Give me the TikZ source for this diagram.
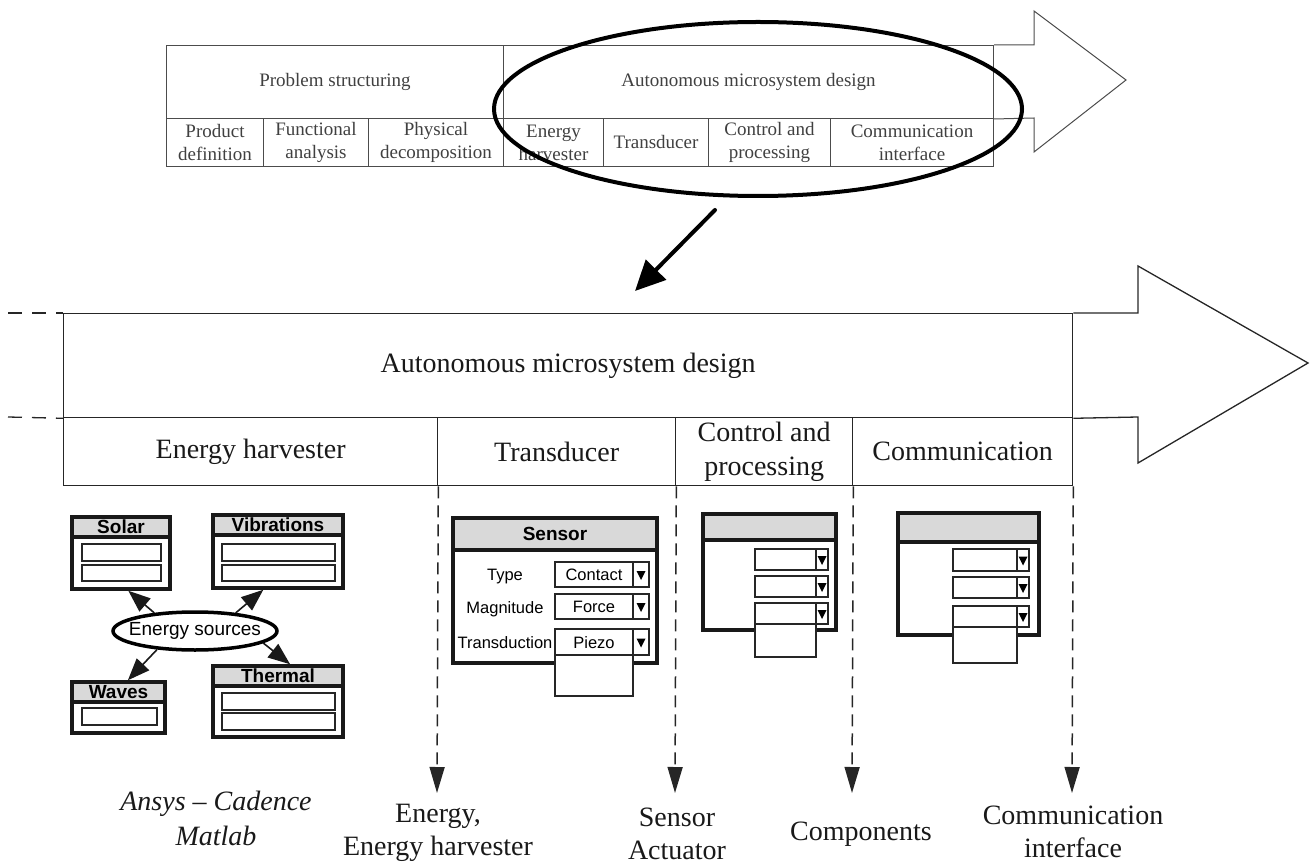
\documentclass[tikz,border=0pt]{standalone}
\usepackage{fontspec}
\setmainfont{Liberation Serif}
\newfontfamily\uisans{Liberation Sans}
\usetikzlibrary{arrows.meta,shapes.geometric,calc,fit}

\tikzset{
  tline/.style={draw=black!70, line width=1pt},
  bline/.style={draw=black!85, line width=1.3pt},
  cell/.style 2 args={anchor=north west, inner sep=0pt, align=center,
    minimum width=#1, minimum height=#2},
  smalltext/.style={font=\fontsize{19}{23}\selectfont, text=black!75},
  bigtext/.style={font=\fontsize{28}{34}\selectfont, text=black!90},
  labeltext/.style={font=\fontsize{28}{33}\selectfont, text=black!90, align=center},
  dashline/.style={bline, dash pattern=on 14pt off 10pt},
  dasharrow/.style={bline, line width=1.5pt, dash pattern=on 12pt off 7pt,
    -{Triangle[length=26pt,width=15pt]}},
  zoomarrow/.style={draw=black, line width=4pt, line cap=round,
    -{Triangle[length=30pt,width=28pt]}},
  winframe/.style={draw=black!90, line width=3.5pt},
  hdrfill/.style={fill=black!15},
  hdrtext/.style={font=\uisans\bfseries\fontsize{19}{21}\selectfont, inner sep=0pt},
  uitext/.style={font=\uisans\fontsize{16.5}{18}\selectfont, inner sep=0pt,
    text height=12pt, text depth=0pt},
  field/.style={draw=black!85, line width=1.2pt, fill=white},
  srcarrow/.style={draw=black!90, line width=1.6pt,
    -{Triangle[length=22pt,width=17pt]}},
}

% application window: name, x1, y1, x2, y2, header bottom, title
\newcommand{\appwin}[7]{%
  \fill[hdrfill] (#2,#3) rectangle (#4,#6);
  \node[fit={(#2,#3) (#4,#5)}, inner sep=0pt, winframe] (#1) {};
  \draw[winframe] (#2,#6) -- (#4,#6);
  \node[hdrtext] (#1-t) at ($(#2,#3)!0.5!(#4,#6)$) {#7};
}
% combo box: x1, y1, x2 (text part), x3 (button end), y2, value
\newcommand{\combo}[6]{%
  \draw[field] (#1,#2) rectangle (#3,#5);
  \draw[field] (#3,#2) rectangle (#4,#5);
  \fill[black] ($(#3,#2)!0.5!(#4,#5)+(-4.5,-3.5)$) -- ++(9,0) -- ++(-4.5,9) -- cycle;
  \node[uitext] at ($(#1,#2)!0.5!(#3,#5)$) {#6};
}

\begin{document}
\begin{tikzpicture}[x=1pt,y=-1pt, line join=miter]
\useasboundingbox (0,0) rectangle (1311,866);

% ---------- overview process arrow ----------
\node[cell={337pt}{73pt}, tline, smalltext] (ps)  at (166,45)  {Problem structuring};
\node[cell={490pt}{73pt}, tline, smalltext] (amd) at (503,45)  {Autonomous microsystem design};
\node[cell={97pt}{48pt},  tline, smalltext] (pd)  at (166,118) {Product\\definition};
\node[cell={105pt}{48pt}, tline, smalltext] (fa)  at (263,118) {Functional\\analysis};
\node[cell={135pt}{48pt}, tline, smalltext] (phd) at (368,118) {Physical\\decomposition};
\node[cell={100pt}{48pt}, tline, smalltext] (eh1) at (503,118) {Energy\\harvester};
\node[cell={105pt}{48pt}, tline, smalltext] (tr1) at (603,118) {Transducer};
\node[cell={122pt}{48pt}, tline, smalltext] (cp1) at (708,118) {Control and\\processing};
\node[cell={163pt}{48pt}, tline, smalltext] (ci1) at (830,118) {Communication\\interface};
\draw[tline] (amd.north east) -- (1034,45) -- (1034,11) -- (1126,80)
  -- (1034,152) -- (1034,118) -- (amd.south east);

% highlighted phase
\node[ellipse, draw=black, line width=4pt, inner sep=0pt,
  minimum width=528pt, minimum height=174pt] (focus) at (758,109) {};
\coordinate (zfrom) at (715,210);
\coordinate (zto) at (635,291);
\draw[zoomarrow] (zfrom) -- (zto);

% ---------- detailed design arrow ----------
\node[cell={1009pt}{104pt}, bline, bigtext] (amd2) at (63,313) {Autonomous microsystem design};
\node[cell={374pt}{68pt}, bline, bigtext] (eh2) at (63,417)  {Energy harvester};
\node[cell={238pt}{68pt}, bline, bigtext] (tr2) at (437,417) {Transducer};
\node[cell={177pt}{68pt}, bline, bigtext] (cp2) at (675,417) {Control and\\processing};
\node[cell={220pt}{68pt}, bline, bigtext] (co2) at (852,417) {Communication};
\draw[bline] (amd2.north east) -- (1138,313) -- (1138,266) -- (1308,363)
  -- (1138,463) -- (1138,417) -- (amd2.south east);
\coordinate (lt) at (8,313);
\coordinate (lm) at (8,417);
\draw[dashline] (lt) -- (amd2.north west);
\draw[dashline] (lm) -- (amd2.south west);

% outputs of each step
\coordinate (o1) at (437,793);
\coordinate (o2) at (675,793);
\coordinate (o3) at (852,793);
\coordinate (o4) at (1072,793);
\draw[dasharrow] (eh2.south east) -- (o1);
\draw[dasharrow] (tr2.south east) -- (o2);
\draw[dasharrow] (cp2.south east) -- (o3);
\draw[dasharrow] (co2.south east) -- (o4);

\node[labeltext, font=\itshape\fontsize{28}{35}\selectfont] (tools) at (216,818) {Ansys -- Cadence\\Matlab};
\node[labeltext] (lb1) at (438,833) {Energy,\\Energy harvester};
\node[labeltext] (lb2) at (677,834) {Sensor\\Actuator};
\node[labeltext] (lb3) at (861,834) {Components};
\node[labeltext] (lb4) at (1073,832) {Communication\\interface};

% ---------- energy sources ----------
\appwin{solar}{72}{517}{170}{589}{537}{Solar}
\draw[field] (82,544) rectangle (161,561);
\draw[field] (82,565) rectangle (161,581);
\appwin{vib}{213}{515}{343}{588}{535}{Vibrations}
\draw[field] (222,544) rectangle (335,561);
\draw[field] (222,565) rectangle (335,581);
\appwin{waves}{72}{682}{165}{733}{702}{Waves}
\draw[field] (82,708) rectangle (157,725);
\appwin{therm}{213}{666}{343}{737}{686}{Thermal}
\draw[field] (222,693) rectangle (335,710);
\draw[field] (222,713) rectangle (335,730);

\node[ellipse, draw=black, line width=3.5pt, inner xsep=-10pt, inner ysep=1pt,
  minimum width=164pt, minimum height=38pt,
  font=\uisans\fontsize{19}{21}\selectfont] (es) at (195,631) {Energy sources};
\draw[srcarrow] (es.156) -- (solar.-79);
\draw[srcarrow] (es.24)  -- (vib.-111);
\draw[srcarrow] (es.206) -- (waves.71);
\draw[srcarrow] (es.-10) -- (therm.72);

% ---------- sensor window ----------
\appwin{sensor}{453}{518}{657}{663}{550}{Sensor}
\node[uitext] (ty) at (505,574) {Type};
\node[uitext] (mg) at (505,607) {Magnitude};
\node[uitext] (td) at (505,642) {Transduction};
\combo{555}{562}{633}{649}{587}{Contact}
\combo{555}{594}{633}{649}{619}{Force}
\combo{555}{629}{633}{649}{655}{Piezo}
\draw[field] (555,655) rectangle (633,696);

% ---------- control and processing window ----------
\appwin{ctrl}{703}{514}{836}{630}{540}{}
\combo{755}{549}{816}{828}{570}{}
\combo{755}{576}{816}{828}{597}{}
\combo{755}{603}{816}{828}{624}{}
\draw[field] (755,624) rectangle (816,657);

% ---------- communication window ----------
\appwin{comm}{898}{513}{1039}{635}{542}{}
\combo{953}{549}{1017}{1029}{571}{}
\combo{953}{577}{1017}{1029}{598}{}
\combo{953}{606}{1017}{1029}{627}{}
\draw[field] (953,627) rectangle (1017,663);

\end{tikzpicture}
\end{document}
